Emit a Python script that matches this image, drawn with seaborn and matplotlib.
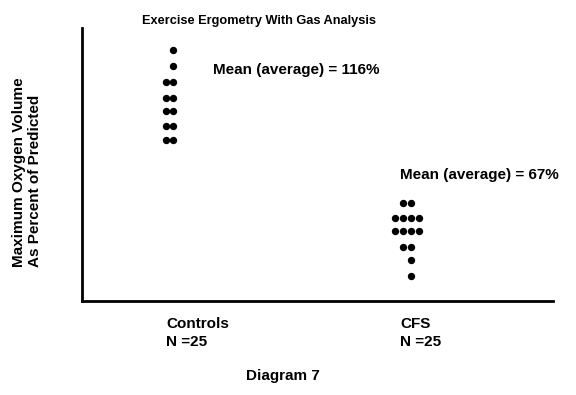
import numpy as np
import pandas as pd
import matplotlib
matplotlib.use("Agg")
import matplotlib.pyplot as plt
import seaborn as sns

# Values (percent of predicted VO2 max)
controls_vals = [136, 130, 124, 124, 118, 118, 113, 113, 107, 107, 102, 102]
cfs_vals = [78, 78, 72, 72, 72, 72, 67, 67, 67, 67, 61, 61, 56, 50]
groups = ["Controls", "CFS"]
group_n = [25, 25]
group_means = [116, 67]

sns.set_style("white")
plt.rcParams['font.family'] = ['Liberation Sans', 'DejaVu Sans']
plt.rcParams['font.weight'] = 'bold'
plt.rcParams['text.color'] = 'black'

df = pd.DataFrame({
    "group": [groups[0]] * len(controls_vals) + [groups[1]] * len(cfs_vals),
    "value": controls_vals + cfs_vals,
})

W, H = 576, 395
fig = plt.figure(figsize=(W / 100, H / 100), dpi=100)
ax = fig.add_axes([82 / W, 1 - 301 / H, (553 - 82) / W, (301 - 28) / H])

sns.swarmplot(data=df, x="group", y="value", order=groups, color="black",
              size=5.3, linewidth=0, ax=ax)

ax.set_xlim(-0.385, 1.599)
ax.set_ylim(40.5, 144.5)
ax.set_xticks([])
ax.set_yticks([])
ax.set_xlabel("")
ax.set_ylabel("")
for side in ["top", "right"]:
    ax.spines[side].set_visible(False)
for side in ["left", "bottom"]:
    ax.spines[side].set_color("black")
    ax.spines[side].set_linewidth(2.0)


def px(x, y):
    return x / W, 1 - y / H


fig.text(*px(142, 24), "Exercise Ergometry With Gas Analysis", fontsize=9.2,
         fontweight="bold", va="baseline", ha="left")
fig.text(*px(213, 74), f"Mean (average) = {group_means[0]}%", fontsize=11,
         fontweight="bold", va="baseline", ha="left")
fig.text(*px(400, 179.5), f"Mean (average) = {group_means[1]}%", fontsize=11,
         fontweight="bold", va="baseline", ha="left")

for xpos, name, n in zip([166.5, 400], groups, group_n):
    fig.text(*px(xpos, 328.5), name, fontsize=11, fontweight="bold",
             va="baseline", ha="left")
    fig.text(*px(xpos, 346), f"N ={n}", fontsize=11, fontweight="bold",
             va="baseline", ha="left")

fig.text(*px(246, 380), "Diagram 7", fontsize=11, fontweight="bold",
         va="baseline", ha="left")

fig.text(*px(23, 267), "Maximum Oxygen Volume", fontsize=11, fontweight="bold",
         rotation=90, rotation_mode="anchor", ha="left", va="baseline")
fig.text(*px(39, 267), "As Percent of Predicted", fontsize=11, fontweight="bold",
         rotation=90, rotation_mode="anchor", ha="left", va="baseline")

fig.savefig("out.png", dpi=100)
